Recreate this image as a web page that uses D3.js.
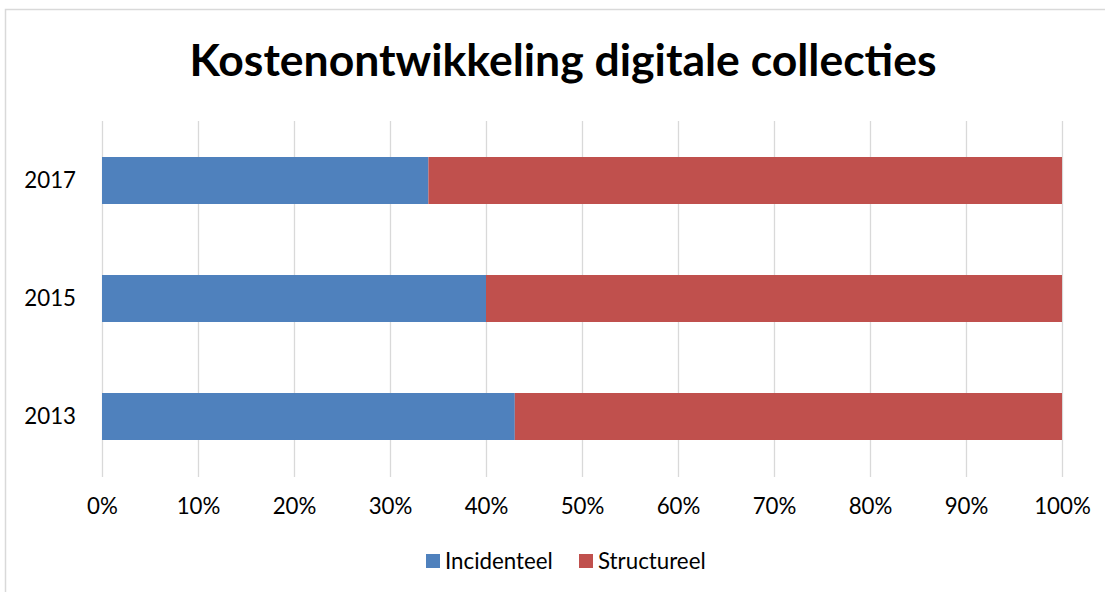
<!DOCTYPE html>
<html><head><meta charset="utf-8">
<script src="https://cdn.jsdelivr.net/npm/d3@7"></script>
<style>body{margin:0;background:#fff}svg{display:block}</style>
</head><body>
<script>
const categories = ["2017", "2015", "2013"];
const seriesNames = ["Incidenteel", "Structureel"];
const incidenteel = [34, 40, 43];
const structureel = [66, 60, 57];
const tickValues = [0, 10, 20, 30, 40, 50, 60, 70, 80, 90, 100];
const colors = ["#4F81BD", "#C0504D"];
const title = "Kostenontwikkeling digitale collecties";

const W = 1105, H = 592;
const svg = d3.select("body").append("svg").attr("width", W).attr("height", H);
const font = "Lato, 'Open Sans', sans-serif";
const fs = 22.3;

// frame
svg.append("path").attr("d", `M5.5,${H} V9.5 H${W}`).attr("fill", "none").attr("stroke", "#D9D9D9").attr("stroke-width", 1.5);

const x = d3.scaleLinear().domain([0, 100]).range([102, 1062]);
const y = d3.scaleBand().domain(categories).range([121.5, 475.5]).paddingInner(0.6).paddingOuter(0.3);

// gridlines
svg.append("g").selectAll("line").data(tickValues).join("line")
  .attr("x1", d => Math.round(x(d)) + 0.5).attr("x2", d => Math.round(x(d)) + 0.5)
  .attr("y1", 121).attr("y2", 477)
  .attr("stroke", "#D9D9D9").attr("stroke-width", 1.3);

const rows = categories.map((c, i) => ({cat: c, vals: [incidenteel[i], structureel[i]]}));
const g = svg.append("g");
rows.forEach(r => {
  let acc = 0;
  r.vals.forEach((v, j) => {
    g.append("rect")
      .attr("x", x(acc)).attr("width", x(acc + v) - x(acc))
      .attr("y", y(r.cat) + (y.bandwidth() - 47) / 2).attr("height", 47)
      .attr("fill", colors[j]);
    acc += v;
  });
});

// x axis labels
const xAxis = d3.axisBottom(x).tickValues(tickValues).tickFormat(d => d + "%").tickSize(0).tickPadding(0);
const xa = svg.append("g").attr("transform", "translate(0,498)").call(xAxis);
xa.select(".domain").remove();
xa.selectAll("text").attr("font-family", font).attr("font-size", fs).attr("fill", "#000").attr("dy", "0.71em").attr("y", 0);

// y axis labels
const yAxis = d3.axisLeft(y).tickSize(0).tickPadding(0);
const ya = svg.append("g").attr("transform", "translate(76,0)").call(yAxis);
ya.select(".domain").remove();
ya.selectAll("text").attr("font-family", font).attr("font-size", fs).attr("fill", "#000");

// title
svg.append("text").attr("x", 563).attr("y", 76).attr("text-anchor", "middle")
  .attr("font-family", font).attr("font-weight", "bold").attr("font-size", 44.5).attr("fill", "#000")
  .text(title);

// legend
const legendX = [426, 579];
const lg = svg.append("g");
seriesNames.forEach((s, i) => {
  lg.append("rect").attr("x", legendX[i]).attr("y", 554).attr("width", 14).attr("height", 14).attr("fill", colors[i]);
  lg.append("text").attr("x", legendX[i] + 19).attr("y", 561).attr("dy", "0.35em")
    .attr("font-family", font).attr("font-size", fs).attr("fill", "#000").text(s);
});
</script>
</body></html>
